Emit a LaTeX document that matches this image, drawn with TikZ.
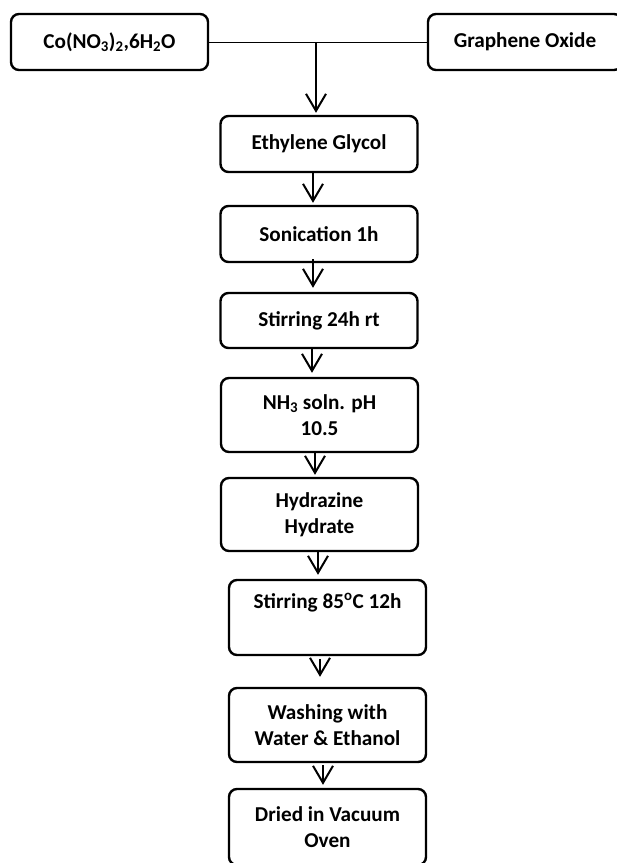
\documentclass[tikz,border=0pt]{standalone}
\usepackage{fontspec}
\setmainfont{Carlito}
\usetikzlibrary{arrows.meta}

\begin{document}
\begin{tikzpicture}[x=1pt,y=-1pt,>={Straight Barb[length=17pt,width=20pt]},
  stepbox/.style={draw,rounded corners=8pt,line width=2.4pt,minimum width=197pt,minimum height=56pt,
    inner sep=0pt,align=center,font=\fontsize{21.2}{26}\selectfont\bfseries},
  flow/.style={->,line width=2pt}]
  \useasboundingbox (0,0) rectangle (617,863);
  \clip (0,0) rectangle (617,863);

  % Starting materials
  \node[stepbox] (co) at (109.5,42) {Co(NO\textsubscript{3})\textsubscript{2},6H\textsubscript{2}O};
  \node[stepbox,minimum width=194pt] (go) at (525,42) {Graphene Oxide};
  \draw[line width=1pt] (co.east) -- (go.west);

  % Process steps
  \node[stepbox] (eg) at (319,144) {Ethylene Glycol};
  \node[stepbox] (son) at (319,234) {Sonication 1h};
  \node[stepbox,minimum height=55pt] (st24) at (319,320.5) {Stirring 24h rt};
  \node[stepbox,minimum height=74pt] (nh3) at (319.5,415) {NH\textsubscript{3} soln. pH\\10.5};
  \node[stepbox,minimum height=73pt] (hyd) at (319.5,514.5) {Hydrazine\\Hydrate};
  \node[stepbox,minimum height=75pt] (st85) at (327.5,617.5) {Stirring 85\textsuperscript{o}C 12h\\\strut};
  \node[stepbox,minimum height=74pt] (wash) at (327.5,725) {Washing with\\Water \& Ethanol};
  \node[stepbox,minimum height=76pt] (dry) at (327.5,827) {Dried in Vacuum\\Oven};

  % Arrows
  \draw[flow] ([xshift=-3pt]co.east -| eg.north) -- ([xshift=-3pt,yshift=2pt]eg.north);
  \draw[flow] ([xshift=-6pt]eg.south) -- ([xshift=-6pt,yshift=2pt]son.north);
  \draw[flow] ([xshift=-6pt,yshift=4pt]son.south) -- ([xshift=-6pt,yshift=4pt]st24.north);
  \draw[flow] ([xshift=-7pt]st24.south) -- ([xshift=-7.5pt,yshift=4pt]nh3.north);
  \draw[flow] ([xshift=-4.5pt]nh3.south) -- ([xshift=-4.5pt,yshift=2pt]hyd.north);
  \draw[flow] ([xshift=-1.5pt]hyd.south) -- ([xshift=-9.5pt,yshift=4pt]st85.north);
  \draw[flow] ([xshift=-7.5pt,yshift=-3pt]st85.south) -- ([xshift=-7.5pt,yshift=10pt]wash.north);
  \draw[flow] ([xshift=-4.5pt,yshift=-2pt]wash.south) -- ([xshift=-4.5pt,yshift=3pt]dry.north);
\end{tikzpicture}
\end{document}
